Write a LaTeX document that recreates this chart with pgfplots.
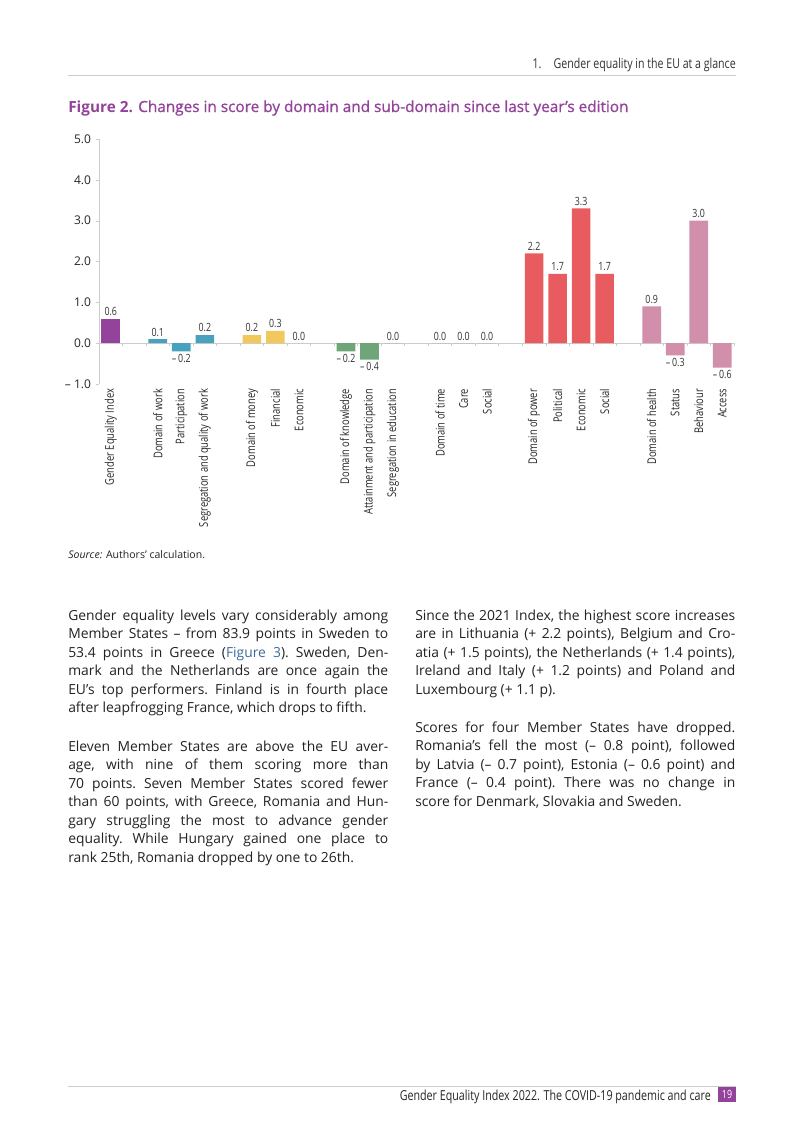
\documentclass[border=0pt]{standalone}
\usepackage{pgfplots}
\pgfplotsset{compat=1.18}
\usepackage{fontspec}
\setmainfont{Open Sans}
\newfontfamily\cond[FakeStretch=0.78]{Open Sans}
\newfontfamily\semib[FakeBold=1]{Open Sans}

\definecolor{eigepurple}{HTML}{93449A}
\definecolor{work}{HTML}{47A3BD}
\definecolor{money}{HTML}{F2C75C}
\definecolor{knowledge}{HTML}{6EA679}
\definecolor{timec}{HTML}{8C8FC4}
\definecolor{power}{HTML}{E85B5E}
\definecolor{health}{HTML}{D28FAB}
\definecolor{txt}{HTML}{222222}
\definecolor{link}{HTML}{3C6C9C}
\definecolor{rule}{HTML}{CCCCCC}

% bar label: one decimal, with "– " for negatives
\newcommand\onedec[1]{\pgfmathprintnumber[fixed,fixed zerofill,precision=1,assume math mode=true]{#1}}
\def\barlabi#1#2\relax{\ifx-#1–\,\onedec{#2}\else\onedec{#1#2}\fi}
\newcommand\barlab{\expandafter\barlabi\rawy\relax}

\pgfplotsset{
  domainbar/.style={ybar, bar width=14pt, bar shift=0pt, draw=none, fill=#1,
    visualization depends on={rawy \as \rawy},
    nodes near coords={\barlab},
    nodes near coords style={font=\cond\fontsize{8.5}{9}\selectfont, text=black!80, inner sep=2pt}},
}

\newcommand\jl[1]{\makebox[240pt][s]{#1}}

\begin{document}
\begin{tikzpicture}
\begin{scope}[x=0.75pt,y=-0.75pt]
  \fill[white] (0,0) rectangle (793,1122);
  % header
  \node[anchor=base east, inner sep=0, text=black!80, font=\cond\fontsize{10.2}{11}\selectfont] at (736,68)
    {1.\hspace{0.9em}Gender equality in the EU at a glance};
  \draw[rule, line width=0.6pt] (68,75) -- (736,75);
  % title
  \node[anchor=base west, inner sep=0, text=eigepurple, font=\fontsize{11.5}{13}\selectfont] at (68,112)
    {\textbf{Figure 2.} {\semib Changes in score by domain and sub-domain since last year’s edition}};
  % source
  \node[anchor=base west, inner sep=0, text=txt, font=\fontsize{7.9}{9}\selectfont] at (68,558)
    {\textit{Source:} Authors’ calculation.};
  % body text
  \node[anchor=base west, inner sep=0, text=txt] at (68,620) {\parbox[t]{240pt}{\fontsize{10.4}{13.9}\selectfont\frenchspacing
    \jl{Gender equality levels vary considerably among}\\
    \jl{Member States – from 83.9 points in Sweden to}\\
    \jl{53.4 points in Greece ({\color{link}Figure 3}). Sweden, Den-}\\
    \jl{mark and the Netherlands are once again the}\\
    \jl{EU’s top performers. Finland is in fourth place}\\
    after leapfrogging France, which drops to fifth.}};
  \node[anchor=base west, inner sep=0, text=txt] at (68,751) {\parbox[t]{240pt}{\fontsize{10.4}{13.9}\selectfont\frenchspacing
    \jl{Eleven Member States are above the EU aver-}\\
    \jl{age, with nine of them scoring more than}\\
    \jl{70 points. Seven Member States scored fewer}\\
    \jl{than 60 points, with Greece, Romania and Hun-}\\
    \jl{gary struggling the most to advance gender}\\
    \jl{equality. While Hungary gained one place to}\\
    rank 25th, Romania dropped by one to 26th.}};
  \node[anchor=base west, inner sep=0, text=txt] at (415,620) {\parbox[t]{240pt}{\fontsize{10.4}{13.9}\selectfont\frenchspacing
    \jl{Since the 2021 Index, the highest score increases}\\
    \jl{are in Lithuania (+ 2.2 points), Belgium and Cro-}\\
    \jl{atia (+ 1.5 points), the Netherlands (+ 1.4 points),}\\
    \jl{Ireland and Italy (+ 1.2 points) and Poland and}\\
    Luxembourg (+ 1.1 p).}};
  \node[anchor=base west, inner sep=0, text=txt] at (415,732) {\parbox[t]{240pt}{\fontsize{10.4}{13.9}\selectfont\frenchspacing
    \jl{Scores for four Member States have dropped.}\\
    \jl{Romania’s fell the most (– 0.8 point), followed}\\
    \jl{by Latvia (– 0.7 point), Estonia (– 0.6 point) and}\\
    \jl{France (– 0.4 point). There was no change in}\\
    score for Denmark, Slovakia and Sweden.}};
  % footer
  \draw[rule, line width=0.6pt] (68,1086) -- (736,1086);
  \node[anchor=base east, inner sep=0, text=black!85, font=\cond\fontsize{10.3}{11}\selectfont] at (711,1100)
    {Gender Equality Index 2022. The COVID-19 pandemic and care};
  \fill[eigepurple] (718,1087) rectangle (736,1102);
  \node[text=white, inner sep=0, font=\cond\fontsize{8.5}{9}\selectfont] at (727,1094.5) {19};
\end{scope}

\begin{axis}[
  at={(74.25pt,-288pt)}, anchor=south west,
  scale only axis, width=476.25pt, height=183.75pt,
  xmin=-0.5, xmax=26.5, ymin=-1, ymax=5, enlargelimits=false, clip=false,
  axis x line*=bottom, axis y line*=left,
  x axis line style={draw=none},
  y axis line style={draw=rule, -},
  tick align=outside, major tick length=2.5pt,
  ytick={-1,0,...,5},
  yticklabels={– 1.0,0.0,1.0,2.0,3.0,4.0,5.0},
  yticklabel style={font=\fontsize{9}{10}\selectfont, text=black!85},
  ytick style={draw=rule},
  xtick={0,2,3,4,6,7,8,10,11,12,14,15,16,18,19,20,21,23,24,25,26},
  xticklabels={Gender Equality Index,
    Domain of work,Participation,Segregation and quality of work,
    Domain of money,Financial,Economic,
    Domain of knowledge,Attainment and participation,Segregation in education,
    Domain of time,Care,Social,
    Domain of power,Political,Economic,Social,
    Domain of health,Status,Behaviour,Access},
  xticklabel style={rotate=90, anchor=east, inner sep=1pt, font=\cond\fontsize{9}{10}\selectfont, text=black!85},
  xtick style={draw=none},
]
  \draw[rule, line width=0.6pt] (axis cs:-0.5,0) -- (axis cs:26.5,0);
  \pgfplotsinvokeforeach{-0.5,0.5,...,26.5}{\draw[rule, line width=0.5pt] (axis cs:#1,0) -- (axis cs:#1,-0.07);}
  \addplot[domainbar=eigepurple] coordinates {(0,0.6)};
  \addplot[domainbar=work] coordinates {(2,0.1) (3,-0.2) (4,0.2)};
  \addplot[domainbar=money] coordinates {(6,0.2) (7,0.3) (8,0.0)};
  \addplot[domainbar=knowledge] coordinates {(10,-0.2) (11,-0.4) (12,0.0)};
  \addplot[domainbar=timec] coordinates {(14,0.0) (15,0.0) (16,0.0)};
  \addplot[domainbar=power] coordinates {(18,2.2) (19,1.7) (20,3.3) (21,1.7)};
  \addplot[domainbar=health] coordinates {(23,0.9) (24,-0.3) (25,3.0) (26,-0.6)};
\end{axis}
\end{tikzpicture}
\end{document}
